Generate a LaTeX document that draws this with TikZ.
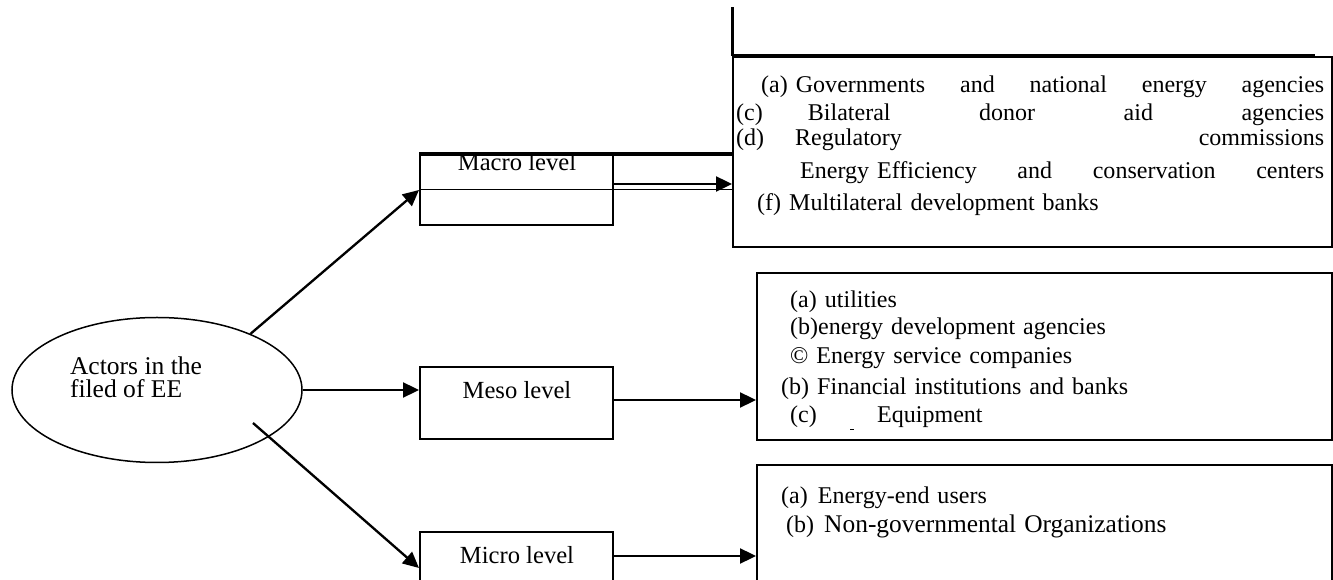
\documentclass[tikz,border=0pt]{standalone}
\usepackage{fontspec}
\setmainfont{Liberation Serif}
\usetikzlibrary{shapes,arrows.meta,calc}

\tikzset{
  lvlbox/.style={draw, line width=0.6mm, minimum width=57.9mm, inner sep=0pt},
  listbox/.style={draw, line width=0.6mm, inner sep=0pt},
  conn/.style={line width=0.7mm, -{Triangle[length=4.8mm,width=4.5mm]}},
  txt/.style={font=\fontsize{20.5pt}{23.9pt}\selectfont, inner sep=0pt}
}

\begin{document}
\begin{tikzpicture}[x=0.3mm,y=-0.3mm]
        \useasboundingbox (0,0) rectangle (1333,580);

        % Actors
        \node[draw, ellipse, line width=0.45mm, minimum width=87mm, minimum height=43.5mm] (actors) at (157,390) {};
        \node[txt, align=left, font=\fontsize{21.8pt}{19.6pt}\selectfont] (actorstext) at (136,377) {Actors in the\\filed of EE};

        % Levels
        \node[lvlbox, minimum height=21mm] (macro) at (516.5,190) {};
        \node[lvlbox, minimum height=21.6mm] (meso) at (516.5,403) {};
        \node[lvlbox, minimum height=16.8mm] (micro) at (516.5,560) {};
        \node[txt, font=\fontsize{21pt}{24pt}\selectfont] (macrotext) at (517,162) {Macro level};
        \node[txt, font=\fontsize{21pt}{24pt}\selectfont] (mesotext) at (517,390) {Meso level};
        \node[txt, font=\fontsize{21pt}{24pt}\selectfont] (microtext) at (517,555) {Micro level};

        % Lists
        \node[listbox, minimum width=179.7mm, minimum height=57mm] (macrolist) at (1032.5,152) {};
        \node[listbox, minimum width=172.5mm, minimum height=50.1mm] (mesolist) at (1044.5,356.5) {};
        \node[listbox, minimum width=172.5mm, minimum height=37.5mm] (microlist) at (1044.5,527.5) {};

        % Macro actors
        \node[txt, anchor=base west, text width=176.4mm, align=left, font=\fontsize{20.5pt}{23.9pt}\selectfont] (macroitems) at (736,93) {%
          \hspace*{7.5mm}(a) Governments \hfill and \hfill national \hfill energy \hfill agencies\\
          (c)\hspace{13.5mm}Bilateral \hfill donor \hfill aid \hfill agencies\\[-0.9mm]
          (d)\hspace{9.3mm}Regulatory \hfill commissions\\[1.5mm]
          \hspace*{19.2mm}Energy Efficiency \hfill and \hfill conservation \hfill centers\\[1.2mm]
          \hspace*{6.3mm}(f) Multilateral development banks};

        % Meso actors
        \node[txt, anchor=base west, text width=160mm, align=left, font=\fontsize{20.5pt}{24.7pt}\selectfont] (mesoitems) at (781,308) {%
          \hspace*{2.7mm}(a) utilities\\[-0.6mm]
          \hspace*{2.7mm}(b)energy development agencies\\
          \hspace*{2.7mm}© Energy service companies\\[0.6mm]
          (b) Financial institutions and banks\\[-0.3mm]
          \hspace*{2.7mm}(c)\hspace{10mm}\rule[-2.1mm]{1.2mm}{0.3mm}\hspace{6.9mm}Equipment};

        % Micro actors
        \node[txt, anchor=base west, text width=160mm, align=left, font=\fontsize{20.5pt}{24.7pt}\selectfont] (microitems) at (781,504) {%
          (a)\hspace{3mm}Energy-end users\\
          \hspace*{1.5mm}(b)\hspace{3mm}{\fontsize{21.7pt}{24.7pt}\selectfont Non-governmental Organizations}};

        % Heavy lines
        \draw[line width=1.1mm] (macro.north west) -- (macro.north west -| macrolist.west);
        \draw[line width=1.2mm] (macrolist.north west) -- ++(583,0);
        \draw[line width=0.9mm] (macrolist.north west) -- ++(0,-49);
        \draw[line width=0.3mm] (macro.west) -- (macro.west -| macrolist.west);

        % Arrows
        \draw[conn] (actors.31) -- (macro.west);
        \draw[conn] (actors.east) -- (actors.east -| meso.west);
        \draw[conn] ([shift={(28.8mm,-9.9mm)}]actors.center) -- ([yshift=-2.4mm]micro.west);
        \draw[conn] ([yshift=1.8mm]macro.east) -- ([yshift=1.8mm]macro.east -| macrolist.west);
        \draw[conn] ([yshift=0.9mm]meso.east) -- ([yshift=0.9mm]meso.east -| mesolist.west);
        \draw[conn] ([yshift=1.2mm]micro.east) -- ([yshift=1.2mm]micro.east -| microlist.west);
\end{tikzpicture}
\end{document}
